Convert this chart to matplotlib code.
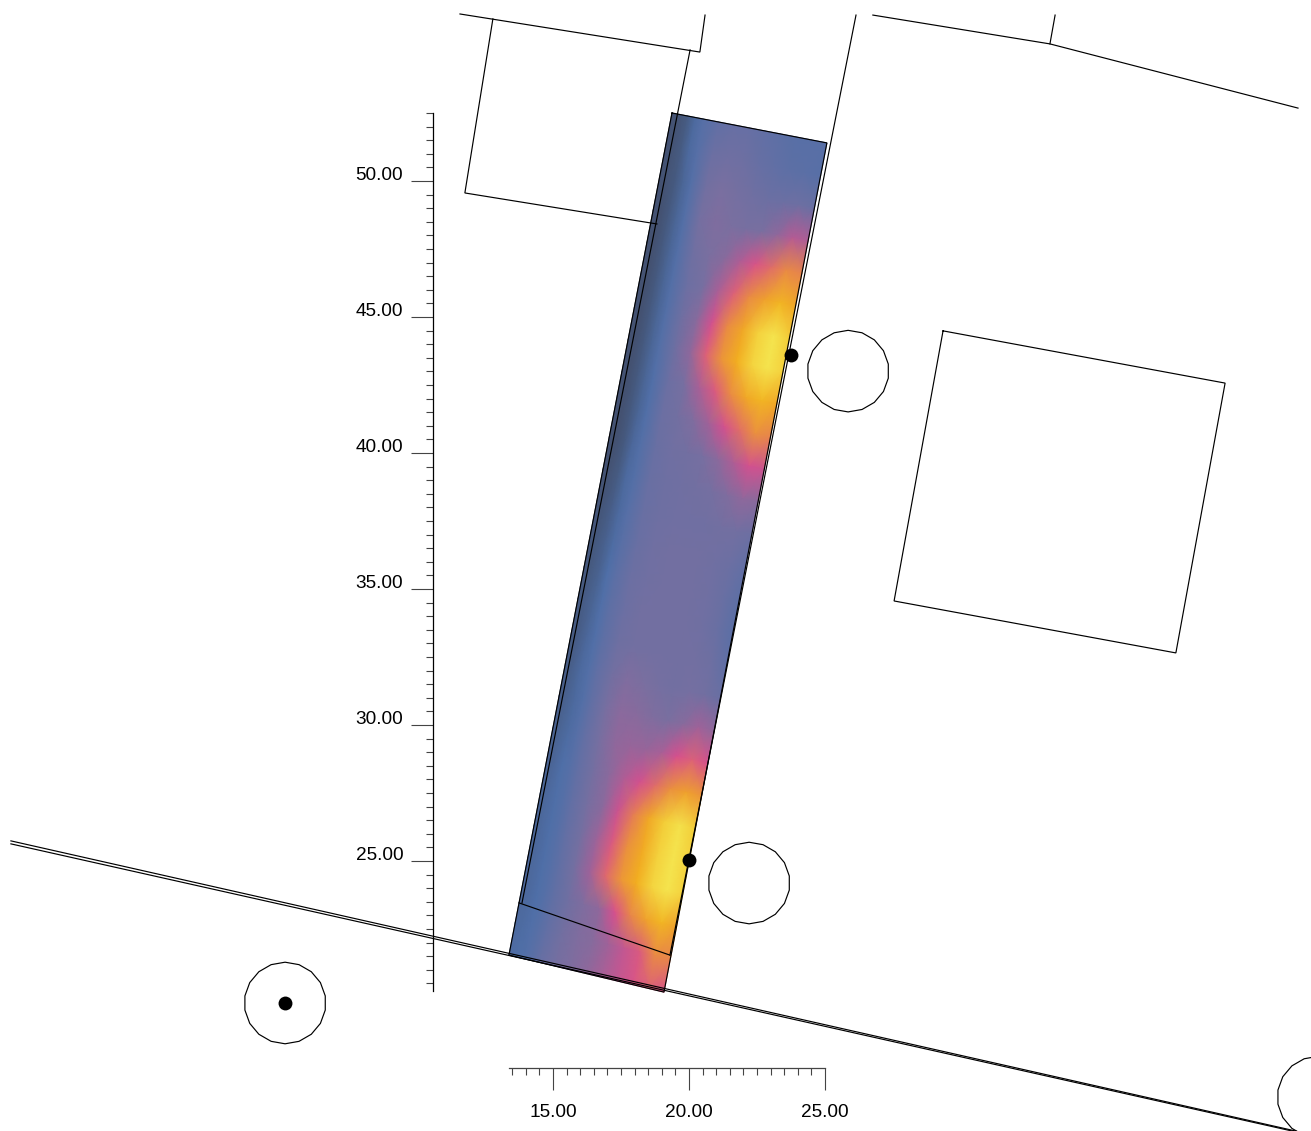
import matplotlib
matplotlib.use("Agg")
import matplotlib.pyplot as plt
import numpy as np
from matplotlib.colors import LinearSegmentedColormap
from matplotlib.patches import RegularPolygon
from matplotlib.transforms import ScaledTranslation

plt.rcParams['font.family'] = ['Liberation Sans', 'DejaVu Sans']

# ---- data (all in chart units) ----
x_major = [15, 20, 25]
x_medium = [17.5, 22.5]
x_minor = [13.5, 14, 14.5, 15.5, 16, 16.5, 17, 18, 18.5, 19, 19.5, 20.5, 21, 21.5, 22, 23, 23.5, 24, 24.5]
y_major = [25, 30, 35, 40, 45, 50]
y_medium = [22.5, 27.5, 32.5, 37.5, 42.5, 47.5, 52.5]
y_minor = [v / 2 for v in range(41, 105) if v % 5 != 0]

x_tick_labels = ["15.00", "20.00", "25.00"]
y_tick_labels = ["25.00", "30.00", "35.00", "40.00", "45.00", "50.00"]

# heat field corners: top-left, top-right, bottom-left, bottom-right
heat_tl = (19.375, 52.50)
heat_tr = (25.07, 51.40)
heat_bl = (13.38, 21.54)
heat_br = (19.08, 20.18)

heat_across = [0, .05, .1, .15, .2, .3, .4, .5, .6, .7, .8, .9, 1]
# rows listed from the top edge of the strip to the bottom edge
heat_rows = [
    [.03, .04, .07, .13, .18, .23, .25, .25, .23, .21, .19, .19, .19],
    [.03, .04, .07, .13, .18, .27, .29, .28, .25, .23, .21, .20, .19],
    [.03, .04, .06, .11, .17, .30, .33, .31, .29, .27, .27, .28, .26],
    [.03, .03, .06, .11, .17, .31, .34, .33, .32, .33, .38, .47, .45],
    [.03, .03, .06, .11, .17, .29, .33, .36, .45, .56, .63, .72, .70],
    [.03, .03, .06, .11, .17, .27, .32, .44, .60, .72, .80, .86, .82],
    [.03, .03, .06, .11, .17, .28, .36, .54, .72, .82, .93, .98, .92],
    [.03, .03, .06, .11, .17, .28, .38, .60, .75, .84, .94, .98, .93],
    [.03, .03, .06, .11, .16, .27, .32, .44, .58, .72, .82, .86, .82],
    [.03, .03, .06, .11, .16, .27, .30, .34, .42, .54, .64, .74, .70],
    [.03, .03, .06, .12, .17, .26, .29, .30, .32, .37, .45, .54, .52],
    [.03, .04, .07, .13, .17, .26, .28, .29, .30, .31, .34, .38, .36],
    [.04, .05, .08, .13, .18, .26, .28, .29, .29, .29, .30, .30, .27],
    [.05, .06, .09, .14, .19, .26, .29, .30, .30, .30, .29, .27, .23],
    [.05, .07, .10, .15, .20, .27, .29, .30, .30, .30, .29, .26, .21],
    [.06, .08, .11, .16, .21, .27, .30, .30, .30, .30, .29, .26, .20],
    [.06, .08, .12, .16, .21, .28, .30, .30, .30, .30, .30, .28, .22],
    [.07, .09, .13, .17, .22, .30, .34, .33, .31, .30, .31, .30, .26],
    [.08, .10, .13, .17, .22, .32, .37, .36, .34, .33, .36, .42, .38],
    [.09, .11, .14, .18, .23, .32, .38, .40, .40, .44, .55, .60, .55],
    [.10, .12, .15, .18, .23, .31, .37, .46, .54, .63, .74, .80, .76],
    [.11, .13, .15, .18, .23, .31, .37, .52, .68, .82, .92, .97, .92],
    [.11, .13, .15, .18, .23, .31, .41, .58, .74, .83, .93, .98, .93],
    [.12, .13, .15, .18, .22, .31, .42, .62, .76, .84, .94, .98, .93],
    [.12, .13, .15, .18, .22, .29, .34, .38, .55, .70, .80, .86, .80],
    [.13, .14, .16, .19, .23, .30, .34, .36, .42, .50, .58, .72, .70],
    [.14, .15, .17, .20, .25, .31, .34, .38, .44, .50, .56, .60, .56],
]

outlines = [
    [(-4.93, 25.74), (42.32, 15.07)],                          # road, upper
    [(-4.93, 25.63), (42.32, 15.04)],                          # road, lower
    [(11.58, 56.14), (20.40, 54.74), (20.59, 56.10)],          # plot at top
    [(12.79, 55.96), (11.76, 49.56), (18.82, 48.42)],          # top-left building
    [(20.04, 54.82), (13.86, 23.46)],                          # strip boundary left
    [(26.14, 56.10), (19.30, 21.54)],                          # strip boundary right
    [(13.75, 23.46), (19.30, 21.54)],                          # crossing line
    [(26.76, 56.10), (33.27, 55.04), (42.39, 52.68)],          # top right
    [(33.46, 56.10), (33.27, 55.04)],
    [(29.34, 44.49), (39.71, 42.57), (37.90, 32.65), (27.54, 34.56), (29.34, 44.49)],
    [heat_tl, heat_tr, heat_br, heat_bl, heat_tl],
]

circle_x = [25.85, 22.21, 5.15, 43.13]
circle_y = [43.01, 24.19, 19.78, 16.32]
circle_r = 1.5

dot_x = [23.75, 20.00, 5.15]
dot_y = [43.60, 25.04, 19.78]

# ---- figure ----
fig = plt.figure(figsize=(13.11, 11.31), dpi=100)
ax = fig.add_axes([0, 0, 1, 1])
ax.set_xlim(-5.331, 42.868)
ax.set_ylim(15.074, 56.654)
ax.patch.set_alpha(0)

cmap = LinearSegmentedColormap.from_list("heat", [
    (0.00, "#414c66"), (0.15, "#4f6fa8"), (0.33, "#7a6fa0"), (0.55, "#d6508e"),
    (0.72, "#e98a45"), (0.85, "#f2b01e"), (1.00, "#f5ec55")])

V = np.array(heat_rows)
U = np.array(heat_across)
T = np.linspace(0, 1, V.shape[0])
uu, tt = np.meshgrid(U, T)
left = np.array(heat_tl)[None, None, :] * (1 - tt)[..., None] + np.array(heat_bl)[None, None, :] * tt[..., None]
right = np.array(heat_tr)[None, None, :] * (1 - tt)[..., None] + np.array(heat_br)[None, None, :] * tt[..., None]
mesh = left * (1 - uu)[..., None] + right * uu[..., None]
ax.pcolormesh(mesh[..., 0], mesh[..., 1], V, cmap=cmap, vmin=0, vmax=1, shading='gouraud', zorder=1)

for pts in outlines:
    xs, ys = zip(*pts)
    ax.plot(xs, ys, color='black', lw=0.85, zorder=3, solid_joinstyle='miter')

for cx, cy in zip(circle_x, circle_y):
    ax.add_patch(RegularPolygon((cx, cy), numVertices=18, radius=circle_r, fill=False,
                                edgecolor='black', lw=0.85, zorder=3))

ax.scatter(dot_x, dot_y, s=100, color='black', linewidths=0, zorder=4)

# ---- axes ----
for side in ('top', 'right'):
    ax.spines[side].set_visible(False)
ax.spines['left'].set_position(('data', 10.60))
ax.spines['left'].set_bounds(20.22, 52.5)
ax.spines['bottom'].set_position(('data', 17.39))
ax.spines['bottom'].set_bounds(13.4, 25.0)
ax.spines['left'].set_linewidth(0.9)
ax.spines['bottom'].set_linewidth(0.9)
ax.spines['bottom'].set_color('#444444')

ax.set_xticks(x_major, labels=x_tick_labels)
ax.set_xticks(sorted(x_medium + x_minor), minor=True)
ax.set_yticks(y_major, labels=y_tick_labels)
ax.set_yticks(sorted(y_medium + y_minor), minor=True)

ax.tick_params(axis='both', which='major', length=15.8, width=0.8, color='#444444', labelsize=13.7)
ax.tick_params(axis='both', which='minor', length=5, width=0.8, color='#444444')
ax.tick_params(axis='y', which='major', pad=5.8)
ax.tick_params(axis='x', which='major', pad=10.0)

for t in ax.xaxis.get_minor_ticks():
    if t.get_loc() in x_medium:
        t.tick1line.set_markersize(10.8)
for t in ax.yaxis.get_minor_ticks():
    if t.get_loc() in y_medium:
        t.tick1line.set_markersize(10.8)
lift = ScaledTranslation(0, 0.8 / 72, fig.dpi_scale_trans)
for lab in ax.get_yticklabels():
    lab.set_verticalalignment('baseline')
    lab.set_transform(lab.get_transform() + lift)

fig.savefig("out.png", dpi=100)
